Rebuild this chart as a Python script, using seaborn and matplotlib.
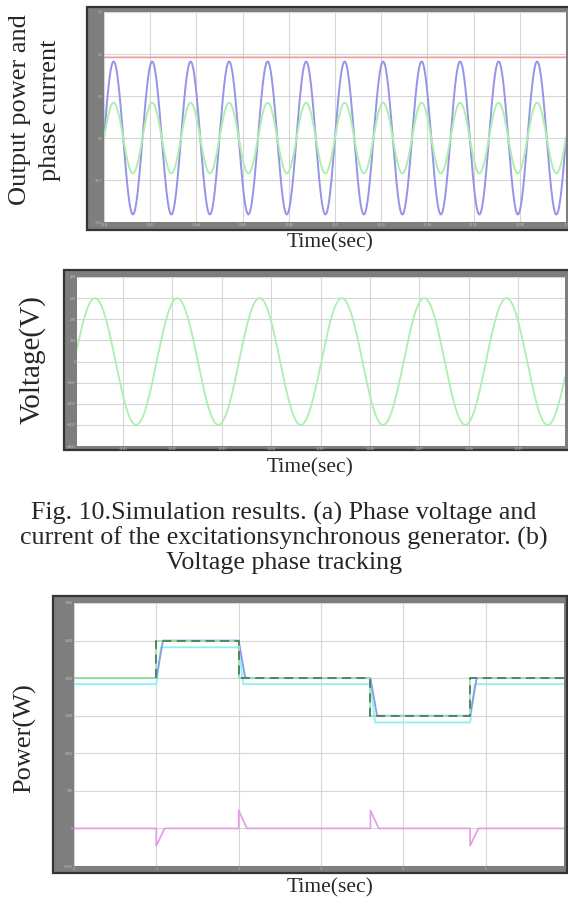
import numpy as np
import pandas as pd
import matplotlib
matplotlib.use("Agg")
import matplotlib.pyplot as plt
from matplotlib.patches import Rectangle
import seaborn as sns

# --- panel (a): output power and phase current ---
t1_start, t1_end = 0.0, 0.2
t1_ticks = [0.0, 0.02, 0.04, 0.06, 0.08, 0.10, 0.12, 0.14, 0.16, 0.18, 0.20]
t1_ticklabels = ["14.8", "14.82", "14.84", "14.86", "14.88", "14.9", "14.92", "14.94", "14.96", "14.98", "15"]
y1_ticks = [-1, -0.5, 0, 0.5, 1, 1.5]
freq = 60.0
power_level = 0.96        # red line
current_amp = 0.91        # blue wave
current2_amp = 0.42       # green wave

# --- panel (b): phase voltage ---
t2_start, t2_end = 0.0007, 0.0995
t2_ticks = [0.01, 0.02, 0.03, 0.04, 0.05, 0.06, 0.07, 0.08, 0.09]
t2_ticklabels = ["14.81", "14.82", "14.83", "14.84", "14.85", "14.86", "14.87", "14.88", "14.89"]
y2_ticks = [-400, -300, -200, -100, 0, 100, 200, 300, 400]
volt_amp = 300
volt_peak_t = 0.00433

# --- panel (c): power tracking ---
step_times = [0.0, 1.0, 2.0, 3.6, 4.81, 5.95]
ref_levels = [2000, 2500, 2000, 1500, 2000]
meas_levels = [1920, 2410, 1920, 1410, 1920]
spike_sizes = [-230, 240, 240, -230]
ramp = 0.08
t3_ticks = [0, 1, 2, 3, 4, 5]
y3_ticks = [-500, 0, 500, 1000, 1500, 2000, 2500, 3000]

W, H = 568, 909
sns.set_style("white")
plt.rcParams["font.family"] = ["Liberation Serif", "DejaVu Serif"]
fig = plt.figure(figsize=(W / 100, H / 100), dpi=100)


def px_axes(x0, y0, x1, y1, frame):
    # frame and axes given in image pixel coords (top-left origin)
    fx0, fy0, fx1, fy1 = frame
    fig.patches.append(Rectangle((fx0 / W, 1 - fy1 / H), (fx1 - fx0) / W, (fy1 - fy0) / H,
                                 transform=fig.transFigure, facecolor="#7e7e7e",
                                 edgecolor="#353535", linewidth=1.6, zorder=-5))
    ax = fig.add_axes([x0 / W, 1 - y1 / H, (x1 - x0) / W, (y1 - y0) / H], zorder=2)
    ax.set_facecolor("white")
    for s in ax.spines.values():
        s.set_visible(False)
    ax.grid(True, color="#d6d6d6", linewidth=0.8)
    ax.tick_params(length=2, width=0.5, color="#555555", labelsize=3, labelcolor="#c8c8c8",
                   pad=1, direction="in")
    return ax


def style_ticks(ax, xt, yt, xlim, ylim, xlabels=None):
    ax.set_xlim(xlim)
    ax.set_ylim(ylim)
    ax.set_xticks(xt)
    ax.set_yticks(yt)
    if xlabels is not None:
        ax.set_xticklabels(xlabels)
    ax.set_xlabel("")
    ax.set_ylabel("")
    if ax.get_legend() is not None:
        ax.get_legend().remove()


def line(df, ax, **kw):
    sns.lineplot(data=df, x="t", y=df.columns[1], ax=ax, estimator=None, sort=False, **kw)


# panel (a)
ax1 = px_axes(104, 12, 566, 222, (87, 7, 572, 230))
t = np.linspace(t1_start, t1_end, 3000)
df1 = pd.DataFrame({
    "t": t,
    "power": np.full_like(t, power_level),
    "ia": current_amp * np.sin(2 * np.pi * freq * t),
    "ib": current2_amp * np.sin(2 * np.pi * freq * t),
})
line(df1[["t", "power"]], ax1, color="#f29a9a", linewidth=1.2)
line(df1[["t", "ia"]], ax1, color="#9494e8", linewidth=1.4)
line(df1[["t", "ib"]], ax1, color="#aeeeae", linewidth=1.4)
style_ticks(ax1, t1_ticks, y1_ticks, (t1_start, t1_end), (-1, 1.5), t1_ticklabels)

# panel (b)
ax2 = px_axes(77, 277, 565, 446, (64, 270, 572, 450))
t = np.linspace(t2_start, t2_end, 2000)
df2 = pd.DataFrame({"t": t, "v": volt_amp * np.cos(2 * np.pi * freq * (t - volt_peak_t))})
line(df2, ax2, color="#aeeeae", linewidth=1.3)
style_ticks(ax2, t2_ticks, y2_ticks, (t2_start, t2_end), (-400, 400), t2_ticklabels)

# panel (c)
ax3 = px_axes(74, 603, 564, 866, (53, 596, 567, 873))
ref_t, ref_y, blu_t, blu_y, cy_t, cy_y = [], [], [], [], [], []
for i in range(len(ref_levels)):
    a, b = step_times[i], step_times[i + 1]
    ref_t += [a, b]
    ref_y += [ref_levels[i], ref_levels[i]]
    if i == 0:
        blu_t += [a]
        blu_y += [ref_levels[i]]
        cy_t += [a]
        cy_y += [meas_levels[i]]
    else:
        blu_t += [a, a + ramp]
        blu_y += [ref_levels[i - 1], ref_levels[i]]
        cy_t += [a, a + ramp * 0.7]
        cy_y += [meas_levels[i - 1], meas_levels[i]]
    blu_t += [b]
    blu_y += [ref_levels[i]]
    cy_t += [b]
    cy_y += [meas_levels[i]]
sp_t, sp_y = [step_times[0]], [0]
for k, s in enumerate(spike_sizes):
    ts = step_times[k + 1]
    sp_t += [ts, ts, ts + 0.1]
    sp_y += [0, s, 0]
sp_t += [step_times[-1]]
sp_y += [0]

df_ref = pd.DataFrame({"t": ref_t, "p": ref_y})
df_blu = pd.DataFrame({"t": blu_t, "p": blu_y})
df_cy = pd.DataFrame({"t": cy_t, "p": cy_y})
df_sp = pd.DataFrame({"t": sp_t, "p": sp_y})
line(df_cy, ax3, color="#8ff0f0", linewidth=1.3)
line(df_blu, ax3, color="#8a9ae8", linewidth=1.3)
line(df_ref, ax3, color="#9be69b", linewidth=1.2)
df_dash = df_ref[df_ref["t"] >= step_times[1]]
line(df_dash, ax3, color="#4a7d66", linewidth=1.3, linestyle=(0, (5, 3)))
line(df_sp, ax3, color="#e39be6", linewidth=1.2)
style_ticks(ax3, t3_ticks, y3_ticks, (0, step_times[-1]), (-500, 3000))

# labels and caption
fig.text(20 / W, 1 - 110 / H, "Output power and", rotation=90,
         ha="center", va="center", fontsize=19)
fig.text(50 / W, 1 - 110 / H, "phase current", rotation=90,
         ha="center", va="center", fontsize=19)
fig.text(330 / W, 1 - 243 / H, "Time(sec)", ha="center", va="center", fontsize=15.5)
fig.text(32 / W, 1 - 360 / H, "Voltage(V)", rotation=90, ha="center", va="center", fontsize=21)
fig.text(310 / W, 1 - 468 / H, "Time(sec)", ha="center", va="center", fontsize=15.5)
fig.text(284 / W, 1 - 538 / H,
         "Fig. 10.Simulation results. (a) Phase voltage and\n"
         "current of the excitationsynchronous generator. (b)\n"
         "Voltage phase tracking",
         ha="center", va="center", fontsize=18.7, linespacing=1.08)
fig.text(25 / W, 1 - 738 / H, "Power(W)", rotation=90, ha="center", va="center", fontsize=19)
fig.text(330 / W, 1 - 888 / H, "Time(sec)", ha="center", va="center", fontsize=15.5)

fig.savefig("out.png", dpi=100)
